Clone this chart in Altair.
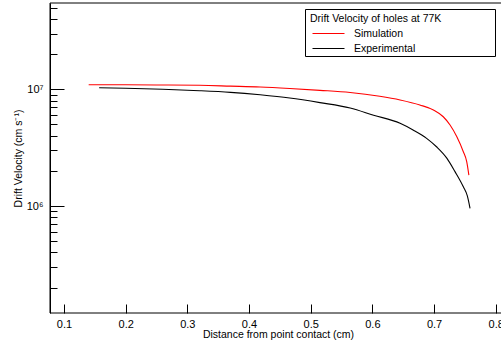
import altair as alt
import pandas as pd

# ---- data ----
sim_x = [0.140, 0.200, 0.260, 0.320, 0.370, 0.418, 0.466, 0.515, 0.564, 0.612,
         0.645, 0.677, 0.699, 0.715, 0.726, 0.737, 0.7475, 0.753, 0.7565]
sim_y = [1.095e7, 1.093e7, 1.089e7, 1.082e7, 1.064e7, 1.046e7, 1.016e7, 9.80e6,
         9.39e6, 8.71e6, 8.10e6, 7.34e6, 6.65e6, 5.82e6, 4.94e6, 3.92e6, 2.92e6,
         2.40e6, 1.84e6]
exp_x = [0.157, 0.200, 0.260, 0.320, 0.370, 0.418, 0.466, 0.515, 0.564, 0.602,
         0.645, 0.666, 0.688, 0.704, 0.721, 0.734, 0.7475, 0.754, 0.7584]
exp_y = [1.03e7, 1.02e7, 1.00e7, 9.73e6, 9.42e6, 8.97e6, 8.42e6, 7.69e6, 6.92e6,
         6.00e6, 5.11e6, 4.48e6, 3.80e6, 3.22e6, 2.56e6, 1.97e6, 1.46e6, 1.22e6,
         9.56e5]

series_names = ["Simulation", "Experimental"]
series_colors = ["#ff0000", "#000000"]
legend_title = "Drift Velocity of holes at 77K"
x_title = "Distance from point contact (cm)"
y_title = "Drift Velocity (cm s\u207b\u00b9)"

x_tick_values = [0.1, 0.2, 0.3, 0.4, 0.5, 0.6, 0.7, 0.8]
y_major_ticks = [1e6, 1e7]
y_minor_ticks = [2e5, 3e5, 4e5, 5e5, 6e5, 7e5, 8e5, 9e5,
                 2e6, 3e6, 4e6, 5e6, 6e6, 7e6, 8e6, 9e6,
                 2e7, 3e7, 4e7, 5e7]

X_DOMAIN = [0.0773, 0.8086]
Y_DOMAIN = [1.211e5, 5.49e7]
W, H = 451, 310
FONT = "Liberation Sans"

df = pd.concat([
    pd.DataFrame({"x": sim_x, "v": sim_y, "series": series_names[0]}),
    pd.DataFrame({"x": exp_x, "v": exp_y, "series": series_names[1]}),
], ignore_index=True)

xs = alt.Scale(domain=X_DOMAIN, nice=False, zero=False)
ys = alt.Scale(type="log", domain=Y_DOMAIN, nice=False)

# bottom axis moved 9px inside so its ticks point into the plot
x_axis = alt.Axis(values=x_tick_values, format=".1f", offset=-9, domain=False,
                  ticks=True, tickSize=9, tickColor="black", tickWidth=1,
                  grid=False, labelFont=FONT, labelFontSize=11,
                  labelColor="black", labelPadding=5, labelFlush=False,
                  labelOverlap=False, title=x_title, titleFont=FONT,
                  titleFontSize=10.5, titleFontWeight="normal",
                  titleColor="black", titleX=228, titleY=30,
                  titleBaseline="middle", titleAlign="center", titleAngle=0)
# left axis moved 7px inside: minor ticks (7px) point into the plot
y_axis = alt.Axis(values=y_major_ticks + y_minor_ticks, offset=-7, domain=False,
                  ticks=True, tickSize=7, tickColor="black", tickWidth=1,
                  grid=False,
                  labelExpr="datum.value == 10000000 ? '10\u2077' : "
                            "(datum.value == 1000000 ? '10\u2076' : '')",
                  labelFont=FONT, labelFontSize=11, labelColor="black",
                  labelPadding=7, labelOverlap=False,
                  title=y_title, titleFont=FONT, titleFontSize=10.5,
                  titleFontWeight="normal", titleColor="black",
                  titleX=-39, titleY=155, titleAngle=-90,
                  titleBaseline="middle", titleAlign="center")
# second y axis placed on the left edge: major ticks (14px) pointing inward
y_axis_major = alt.Axis(orient="right", offset=-W, values=y_major_ticks,
                        domain=True, domainColor="black", domainWidth=1,
                        ticks=True, tickSize=14, tickColor="black",
                        tickWidth=1, labels=False, grid=False, title=None)

X = alt.X("x:Q", scale=xs, axis=x_axis)

lines = alt.Chart(df).mark_line(strokeWidth=1.1, interpolate="monotone", clip=True).encode(
    x=X,
    y=alt.Y("v:Q", scale=ys, axis=y_axis),
    color=alt.Color("series:N",
                    scale=alt.Scale(domain=series_names, range=series_colors),
                    legend=alt.Legend(title=legend_title, orient="none",
                                      legendX=260, legendY=10.5,
                                      direction="vertical",
                                      symbolType="stroke", symbolSize=1024,
                                      symbolStrokeWidth=1, symbolOffset=2,
                                      clipHeight=15, labelOffset=9,
                                      padding=0, rowPadding=0, titlePadding=2,
                                      titleFont=FONT, titleFontSize=10.5,
                                      titleFontWeight="normal", titleColor="black",
                                      labelFont=FONT, labelFontSize=10.5,
                                      labelColor="black", titleLimit=300,
                                      labelLimit=200)),
    order="x:Q",
)

ghost = alt.Chart(df).mark_line(opacity=0).encode(
    x=X,
    y=alt.Y("v:Q", scale=ys, axis=y_axis_major),
    detail="series:N",
)

dummy = pd.DataFrame({"a": [0]})
top_frame = alt.Chart(dummy).mark_rule(color="black", strokeWidth=1).encode(
    x=alt.value(0), x2=alt.value(W), y=alt.value(0))
bottom_frame = alt.Chart(dummy).mark_rule(color="black", strokeWidth=1).encode(
    x=alt.value(0), x2=alt.value(W), y=alt.value(H))
left_frame = alt.Chart(dummy).mark_rule(color="black", strokeWidth=1).encode(
    x=alt.value(0), y=alt.value(0), y2=alt.value(H))
legend_box = alt.Chart(dummy).mark_rect(fill="white", stroke="black", strokeWidth=1).encode(
    x=alt.value(255.5), x2=alt.value(445.5), y=alt.value(6.5), y2=alt.value(53.5))

chart = alt.layer(lines, ghost, legend_box, top_frame, bottom_frame, left_frame).resolve_axis(
    y="independent"
).properties(
    width=W, height=H,
    autosize=alt.AutoSizeParams(type="none"),
    padding={"left": 50, "top": 3, "right": 0, "bottom": 33},
    background="white",
).configure_view(stroke=None)

chart.save("out.html", embed_options={"renderer": "svg", "actions": False})
